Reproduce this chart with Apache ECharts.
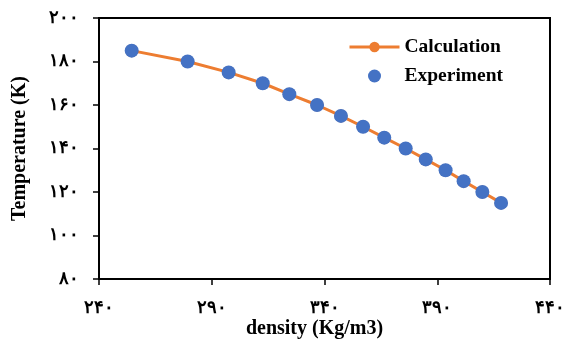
<!DOCTYPE html>
<html><head><meta charset="utf-8">
<script src="https://cdn.jsdelivr.net/npm/echarts@6/dist/echarts.min.js"></script>
<style>html,body{margin:0;padding:0;background:#fff}#c{width:564px;height:339px}</style>
</head><body><div id="c"></div>
<script>
const density = [254.5, 279.3, 297.5, 312.6, 324.4, 336.7, 347.3, 357.1, 366.5, 376.0, 384.9, 393.7, 401.7, 410.0, 418.3];
const calcTemp = [185, 180, 175, 170, 165, 160, 155, 150, 145, 140, 135, 130, 125, 120, 115];
const expTemp  = [185, 180, 175, 170, 165, 160, 155, 150, 145, 140, 135, 130, 125, 120, 115];
const xTickValues = [240, 290, 340, 390, 440];
const xTickLabels = ['۲۴۰', '۲۹۰', '۳۴۰', '۳۹۰', '۴۴۰'];
const yTickValues = [80, 100, 120, 140, 160, 180, 200];
const yTickLabels = ['۸۰', '۱۰۰', '۱۲۰', '۱۴۰', '۱۶۰', '۱۸۰', '۲۰۰'];

const font = '"Liberation Serif", "DejaVu Serif", serif';
const chart = echarts.init(document.getElementById('c'));
chart.setOption({
  animation: false,
  backgroundColor: '#fff',
  grid: { left: 99, right: 14, top: 18, bottom: 60, show: true, borderColor: '#000', borderWidth: 2,
    backgroundColor: 'transparent', containLabel: false, outerBoundsMode: 'none' },
  legend: {
    orient: 'vertical', left: 343, top: 32, itemWidth: 50, itemHeight: 13, itemGap: 9,
    lineStyle: { width: 3 },
    textStyle: { fontFamily: font, fontWeight: 'bold', fontSize: 19.5, color: '#000' },
    data: [{ name: 'Calculation' }, { name: 'Experiment', icon: 'circle' }]
  },
  xAxis: {
    type: 'value', min: 240, max: 440, interval: 50,
    name: 'density (Kg/m3)', nameLocation: 'middle', nameGap: 40, nameMoveOverlap: false,
    nameTextStyle: { fontFamily: font, fontWeight: 'bold', fontSize: 20, color: '#000', padding: [0, 20, 0, 0] },
    axisLine: { show: true, lineStyle: { color: '#000', width: 2 } },
    axisTick: { show: true, length: 6, lineStyle: { color: '#000', width: 1.5 } },
    splitLine: { show: false },
    axisLabel: { margin: 20, fontFamily: font, fontWeight: 'bold', fontSize: 18, color: '#000',
      formatter: v => { const i = xTickValues.indexOf(v); return i >= 0 ? xTickLabels[i] : ''; } }
  },
  yAxis: {
    type: 'value', min: 80, max: 200, interval: 20,
    name: 'Temperature (K)', nameLocation: 'middle', nameGap: 69, nameMoveOverlap: false,
    nameTextStyle: { fontFamily: font, fontWeight: 'bold', fontSize: 20, color: '#000' },
    axisLine: { show: true, lineStyle: { color: '#000', width: 2 } },
    axisTick: { show: true, length: 6, lineStyle: { color: '#000', width: 1.5 } },
    splitLine: { show: false },
    axisLabel: { margin: 20, fontFamily: font, fontWeight: 'bold', fontSize: 18, color: '#000',
      formatter: v => { const i = yTickValues.indexOf(v); return i >= 0 ? yTickLabels[i] : ''; } }
  },
  series: [
    { name: 'Calculation', type: 'line', data: density.map((d, i) => [d, calcTemp[i]]),
      symbol: 'circle', symbolSize: 13, showAllSymbol: true,
      lineStyle: { color: '#ED7D31', width: 3 }, itemStyle: { color: '#ED7D31' }, z: 2 },
    { name: 'Experiment', type: 'scatter', data: density.map((d, i) => [d, expTemp[i]]),
      symbol: 'circle', symbolSize: 14, itemStyle: { color: '#4472C4', opacity: 1 }, z: 3 }
  ]
});
</script></body></html>
